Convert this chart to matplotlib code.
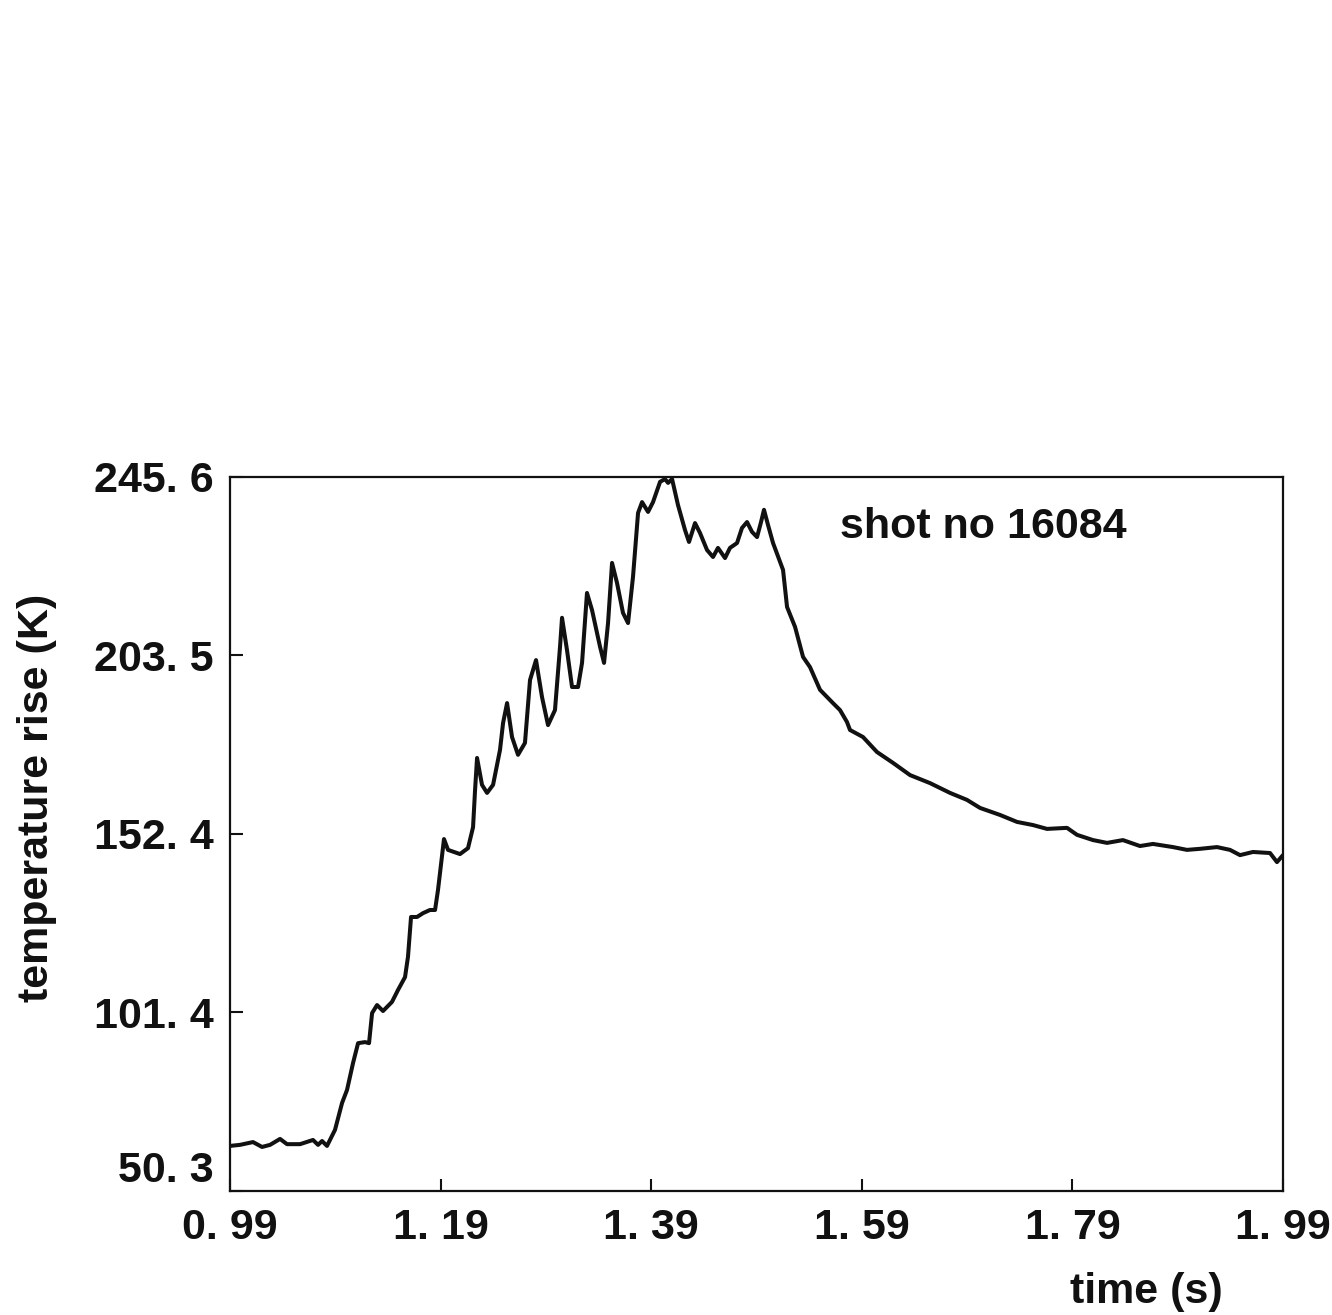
import matplotlib
matplotlib.use("Agg")
import matplotlib.pyplot as plt

# temperature trace (shot no 16084)
time_s = [0.9900, 0.9995, 1.0118, 1.0204, 1.0280, 1.0375, 1.0441, 1.0565, 1.0688, 1.0736,
          1.0774, 1.0821, 1.0897, 1.0964, 1.1011, 1.1068, 1.1116, 1.1182, 1.1220, 1.1249,
          1.1296, 1.1353, 1.1438, 1.1495, 1.1562, 1.1590, 1.1619, 1.1676, 1.1733, 1.1799,
          1.1847, 1.1875, 1.1932, 1.1970, 1.2084, 1.2160, 1.2208, 1.2227, 1.2246, 1.2293,
          1.2341, 1.2398, 1.2464, 1.2493, 1.2531, 1.2578, 1.2635, 1.2701, 1.2749, 1.2806,
          1.2863, 1.2920, 1.2986, 1.3034, 1.3053, 1.3100, 1.3148, 1.3205, 1.3243, 1.3290,
          1.3338, 1.3414, 1.3452, 1.3490, 1.3528, 1.3575, 1.3632, 1.3680, 1.3727, 1.3775,
          1.3813, 1.3870, 1.3917, 1.3984, 1.4031, 1.4060, 1.4098, 1.4154, 1.4221, 1.4259,
          1.4316, 1.4363, 1.4430, 1.4487, 1.4534, 1.4601, 1.4648, 1.4715, 1.4762, 1.4810,
          1.4857, 1.4905, 1.4943, 1.4971, 1.5009, 1.5057, 1.5152, 1.5190, 1.5266, 1.5342,
          1.5408, 1.5503, 1.5626, 1.5693, 1.5759, 1.5788, 1.5911, 1.6044, 1.6196, 1.6358,
          1.6548, 1.6738, 1.6899, 1.7023, 1.7212, 1.7374, 1.7526, 1.7659, 1.7849, 1.7944,
          1.8096, 1.8229, 1.8380, 1.8542, 1.8665, 1.8855, 1.8988, 1.9112, 1.9273, 1.9397,
          1.9492, 1.9615, 1.9777, 1.9843, 1.9900]

temp_rise = [63.2, 63.5, 64.3, 62.9, 63.5, 65.2, 63.7, 63.7, 64.9, 63.5,
             64.6, 63.2, 67.8, 75.5, 79.2, 86.9, 92.6, 92.9, 92.6, 101.2,
             103.5, 101.8, 104.4, 107.8, 111.5, 117.3, 128.7, 128.7, 129.8, 130.7,
             130.7, 136.4, 151.0, 147.9, 146.7, 148.4, 154.4, 165.0, 174.2, 166.5,
             164.2, 166.5, 176.5, 184.2, 189.9, 180.2, 175.1, 178.5, 196.5, 202.2,
             191.6, 183.6, 187.9, 206.0, 214.3, 205.1, 194.5, 194.5, 201.4, 221.4,
             216.5, 206.0, 201.4, 212.8, 230.0, 224.3, 215.7, 212.8, 226.0, 244.3,
             247.4, 244.6, 247.4, 253.2, 254.0, 252.9, 254.0, 246.6, 239.4, 236.0,
             241.4, 238.6, 233.7, 231.7, 234.3, 231.4, 234.3, 235.7, 240.0, 241.7,
             238.9, 237.4, 241.7, 245.2, 240.9, 235.7, 228.0, 217.4, 211.7, 203.1,
             200.2, 193.7, 189.9, 187.9, 184.5, 182.2, 180.2, 175.9, 172.8, 169.3,
             167.0, 164.2, 162.2, 159.9, 157.9, 155.9, 155.0, 153.9, 154.2, 152.2,
             150.7, 149.9, 150.7, 149.0, 149.6, 148.7, 147.9, 148.2, 148.7, 147.9,
             146.4, 147.3, 147.0, 144.4, 146.4]

x_ticks = [0.99, 1.19, 1.39, 1.59, 1.79, 1.99]
x_tick_labels = ['0. 99', '1. 19', '1. 39', '1. 59', '1. 79', '1. 99']
y_ticks = [50.3, 101.375, 152.45, 203.525, 254.6]
y_tick_labels = ['50. 3', '101. 4', '152. 4', '203. 5', '245. 6']

plt.rcParams['font.family'] = ['Liberation Sans', 'DejaVu Sans']
plt.rcParams['font.weight'] = 'bold'
fs = 31

fig = plt.figure(figsize=(13.32, 13.15), dpi=100)
ax = fig.add_axes([0.1727, 0.0943, 0.7905, 0.5430])

ax.plot(time_s, temp_rise, color='#111111', linewidth=2.9,
        solid_joinstyle='round', solid_capstyle='round')

ax.set_xlim(0.99, 1.99)
ax.set_ylim(50.3, 254.6)
ax.set_xticks(x_ticks)
ax.set_xticklabels(x_tick_labels)
ax.set_yticks(y_ticks)
ax.set_yticklabels(y_tick_labels)
ax.tick_params(axis='both', direction='in', length=9, width=1.5, labelsize=fs, colors='#111111')
ax.tick_params(axis='x', pad=12)
ax.tick_params(axis='y', pad=12)
# bottom label of the y axis sits above its tick in the original
ax.get_yticklabels()[0].set_verticalalignment('bottom')

for side in ax.spines.values():
    side.set_linewidth(1.6)
    side.set_color('#111111')

ax.text(0.579, 0.9146, 'shot no 16084', transform=ax.transAxes, fontsize=fs,
        fontweight='bold', ha='left', va='baseline', color='#111111')

fig.text(0.0278, 0.3932, 'temperature rise (K)', rotation=90, fontsize=fs,
         fontweight='bold', ha='center', va='center', color='#111111')
fig.text(0.918, 0.0091, 'time (s)', fontsize=fs, fontweight='bold',
         ha='right', va='baseline', color='#111111')

fig.savefig('out.png', dpi=100)
